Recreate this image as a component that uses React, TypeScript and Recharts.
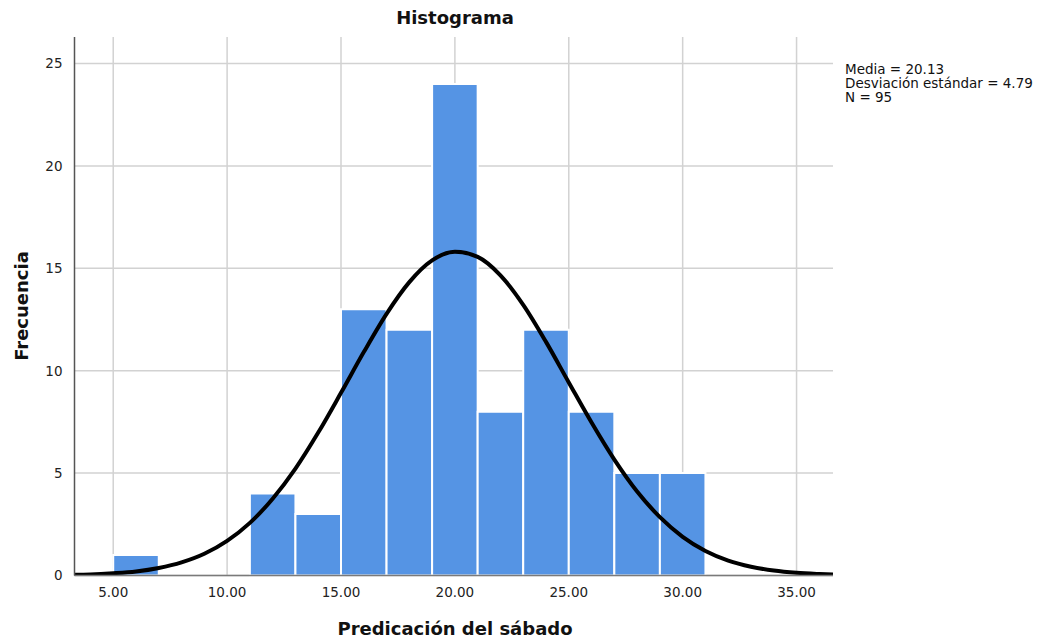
import React from 'react';
import { ComposedChart, XAxis, YAxis, CartesianGrid, Line, ReferenceArea } from 'recharts';

const binLower = [5, 7, 9, 11, 13, 15, 17, 19, 21, 23, 25, 27, 29];
const binUpper = [7, 9, 11, 13, 15, 17, 19, 21, 23, 25, 27, 29, 31];
const binCounts = [1, 0, 0, 4, 3, 13, 12, 24, 8, 12, 8, 5, 5];

const curveX = [3, 4, 5, 6, 7, 8, 9, 10, 11, 12, 13, 14, 15, 16, 17, 18, 19, 20, 21, 22, 23, 24, 25, 26, 27, 28, 29, 30, 31, 32, 33, 34, 35, 36, 37];
const curveY = [0.03, 0.05, 0.11, 0.2, 0.37, 0.64, 1.06, 1.69, 2.57, 3.75, 5.22, 6.98, 8.92, 10.91, 12.78, 14.33, 15.39, 15.81, 15.56, 14.66, 13.22, 11.41, 9.43, 7.47, 5.66, 4.1, 2.85, 1.89, 1.2, 0.73, 0.43, 0.24, 0.13, 0.07, 0.03];

const xTicks = [5, 10, 15, 20, 25, 30, 35];
const yTicks = [0, 5, 10, 15, 20, 25];

const titleText = 'Histograma';
const xLabel = 'Predicación del sábado';
const yLabel = 'Frecuencia';
const statsLines = ['Media = 20.13', 'Desviación estándar = 4.79', 'N = 95'];

const curveData = curveX.map((x, i) => ({ x, y: curveY[i] }));
const bins = binLower.map((lo, i) => ({ lo, hi: binUpper[i], count: binCounts[i] })).filter(b => b.count > 0);

const FONT = '"DejaVu Sans", sans-serif';

export default function App() {
  return (
    <div style={{ position: 'absolute', left: 0, top: 0, width: 1045, height: 641, background: '#fff', fontFamily: FONT }}>
      <ComposedChart
        width={1045}
        height={641}
        data={curveData}
        margin={{ top: 37, right: 212, bottom: 35.5, left: 14.5 }}
      >
        <CartesianGrid
          stroke="#d2d2d2"
          strokeWidth={1.5}
          horizontalValues={yTicks}
          verticalValues={xTicks}
        />
        <XAxis
          type="number"
          dataKey="x"
          domain={[3.3, 36.6]}
          allowDataOverflow
          ticks={xTicks}
          tickFormatter={(v: number) => v.toFixed(2)}
          tickLine={false}
          axisLine={{ stroke: '#7a7a7a', strokeWidth: 1.5 }}
          height={30}
          tickMargin={6}
          tick={{ fill: '#222', fontSize: 13.5, fontFamily: FONT }}
        />
        <YAxis
          type="number"
          domain={[0, 26.3]}
          allowDataOverflow
          ticks={yTicks}
          tickLine={false}
          axisLine={{ stroke: '#555', strokeWidth: 1.5 }}
          width={60}
          tickMargin={6}
          tick={{ fill: '#222', fontSize: 13.5, fontFamily: FONT }}
        />
        {bins.map((b, i) => (
          <ReferenceArea
            key={i}
            x1={b.lo}
            x2={b.hi}
            y1={0}
            y2={b.count}
            fill="#5594e4"
            fillOpacity={1}
            stroke="#ffffff"
            strokeWidth={2}
          />
        ))}
        <Line
          data={curveData}
          dataKey="y"
          type="monotone"
          stroke="#000"
          strokeWidth={4}
          dot={false}
          activeDot={false}
          isAnimationActive={false}
        />
      </ComposedChart>
      <div style={{ position: 'absolute', left: 0, width: 910, top: 7, textAlign: 'center', fontWeight: 'bold', fontSize: 18, color: '#111' }}>{titleText}</div>
      <div style={{ position: 'absolute', left: 0, width: 910, top: 618, textAlign: 'center', fontWeight: 'bold', fontSize: 18, color: '#111' }}>{xLabel}</div>
      <div style={{ position: 'absolute', left: 21, top: 306, width: 0, height: 0 }}>
        <div style={{ position: 'absolute', transform: 'translate(-50%, -50%) rotate(-90deg)', whiteSpace: 'nowrap', fontWeight: 'bold', fontSize: 18, color: '#111' }}>{yLabel}</div>
      </div>
      <div style={{ position: 'absolute', left: 845, top: 62, fontSize: 13.5, lineHeight: '14px', color: '#111' }}>
        {statsLines.map((s, i) => (
          <div key={i}>{s}</div>
        ))}
      </div>
    </div>
  );
}
